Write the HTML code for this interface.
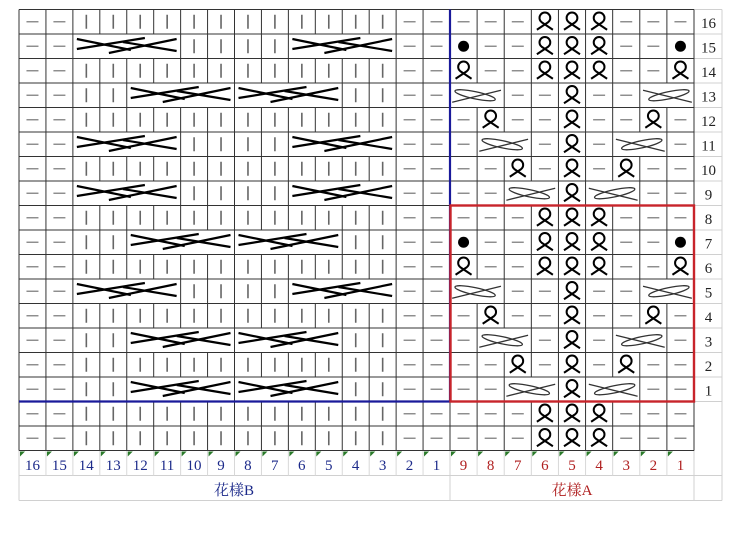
<!DOCTYPE html>
<html><head><meta charset="utf-8">
<style>
html,body{margin:0;padding:0;background:#fff;width:740px;height:533px;overflow:hidden}
svg{display:block}
text{font-family:"Liberation Serif","Noto Serif CJK SC",serif}
</style></head>
<body>
<svg id="s" width="740" height="533" viewBox="0 0 740 533" xmlns="http://www.w3.org/2000/svg">
<g id="g"></g>
<g font-size="15" text-anchor="middle">
<text x="708.5" y="28" fill="#222">16</text>
<text x="708.5" y="52.5" fill="#222">15</text>
<text x="708.5" y="77" fill="#222">14</text>
<text x="708.5" y="101.5" fill="#222">13</text>
<text x="708.5" y="126" fill="#222">12</text>
<text x="708.5" y="150.5" fill="#222">11</text>
<text x="708.5" y="175" fill="#222">10</text>
<text x="708.5" y="199.5" fill="#222">9</text>
<text x="708.5" y="224" fill="#222">8</text>
<text x="708.5" y="248.5" fill="#222">7</text>
<text x="708.5" y="273" fill="#222">6</text>
<text x="708.5" y="297.5" fill="#222">5</text>
<text x="708.5" y="322" fill="#222">4</text>
<text x="708.5" y="346.5" fill="#222">3</text>
<text x="708.5" y="371" fill="#222">2</text>
<text x="708.5" y="395.5" fill="#222">1</text>
</g>
<g font-size="15" text-anchor="middle" fill="#1c2a8a">
<text x="32.5" y="470">16</text><text x="59.4" y="470">15</text><text x="86.3" y="470">14</text><text x="113.3" y="470">13</text>
<text x="140.2" y="470">12</text><text x="167.1" y="470">11</text><text x="194" y="470">10</text><text x="221" y="470">9</text>
<text x="247.9" y="470">8</text><text x="274.8" y="470">7</text><text x="301.8" y="470">6</text><text x="328.7" y="470">5</text>
<text x="355.6" y="470">4</text><text x="382.6" y="470">3</text><text x="409.5" y="470">2</text><text x="436.5" y="470">1</text>
<text x="234" y="495">花樣B</text>
</g>
<g font-size="15" text-anchor="middle" fill="#b02020">
<text x="463.5" y="470">9</text><text x="490.6" y="470">8</text><text x="517.8" y="470">7</text><text x="544.9" y="470">6</text>
<text x="572" y="470">5</text><text x="599.1" y="470">4</text><text x="626.2" y="470">3</text><text x="653.4" y="470">2</text>
<text x="680.5" y="470">1</text>
<text x="572" y="495">花樣A</text>
</g>
</svg>
<script>
(function(){
var NS="http://www.w3.org/2000/svg",g=document.getElementById("g");
function el(t,a){var e=document.createElementNS(NS,t);for(var k in a)e.setAttribute(k,a[k]);g.appendChild(e);return e;}
function line(x1,y1,x2,y2,c,w){el("line",{x1:x1,y1:y1,x2:x2,y2:y2,stroke:c,"stroke-width":w||1});}
var T=9.5,RH=24.5,L=19,CWL=431/16,MX=450,CWR=244/9,R=694,NR=722;
var GB=T+18*RH;
var xs=[];for(var i=0;i<=16;i++)xs.push(L+i*CWL);for(var j=1;j<=9;j++)xs.push(MX+j*CWR);
for(var r=0;r<=16;r++)line(R,T+r*RH,NR,T+r*RH,"#d0d0d0",1);
line(NR,T,NR,GB+50,"#d0d0d0",1);
line(L,GB+25,NR,GB+25,"#d0d0d0",1);line(L,GB+50,NR,GB+50,"#d0d0d0",1);
line(L,GB,L,GB+50,"#d0d0d0",1);line(MX,GB,MX,GB+50,"#d0d0d0",1);line(R,GB,R,GB+50,"#d0d0d0",1);
for(var i=1;i<25;i++)if(i!=16)line(xs[i],GB,xs[i],GB+25,"#d8d8d8",1);
for(var i=0;i<25;i++){el("polygon",{points:(xs[i]+1)+","+(GB+1)+" "+(xs[i]+6)+","+(GB+1)+" "+(xs[i]+1)+","+(GB+6),fill:"#2a7a2a"});}
var K="|",P="-";
function Brow(type){var a=[P,P];
 if(type==0){for(var i=0;i<12;i++)a.push(K);}
 else if(type==1){a.push("C","0","0","0",K,K,K,K,"C","0","0","0");}
 else {a.push(K,K,"C","0","0","0","C","0","0","0",K,K);}
 a.push(P,P);return a;}
var A={16:"---QQQ---",15:"B--QQQ--B",14:"Q--QQQ--Q",13:"L0--Q--M0",12:"-Q--Q--Q-",11:"-L0-Q-M0-",10:"--Q-Q-Q--",9:"--L0QM0--"};
var btype={16:0,15:1,14:0,13:2,12:0,11:1,10:0,9:1,8:0,7:2,6:0,5:1,4:0,3:2,2:0,1:2};
var rows=[];
for(var r=16;r>=1;r--){var rr=r>8?r:r+8;rows.push(Brow(btype[r]).concat(A[rr].split("")));}
for(var e=0;e<2;e++)rows.push(Brow(0).concat("---QQQ---".split("")));
for(var r=0;r<=18;r++){line(L,T+r*RH,R,T+r*RH,"#333",1);}
for(var i=0;i<25;i++){
 for(var r=0;r<18;r++){var c=rows[r][i];if(i>0&&c==="0")continue;line(xs[i],T+r*RH,xs[i],T+(r+1)*RH,"#333",1);}
}
line(R,T,R,GB,"#333",1);
for(var r=0;r<18;r++){var y=T+r*RH,cy=y+RH/2;
 for(var i=0;i<25;i++){var c=rows[r][i],x=xs[i],cx=(xs[i]+xs[i+1])/2;
  if(c===K)line(cx,cy-7,cx,cy+7,"#666",1.6);
  else if(c===P)line(cx-6,cy,cx+6,cy,"#888",1.4);
  else if(c==="B")el("circle",{cx:cx,cy:cy,r:5.5,fill:"#000"});
  else if(c==="Q")el("path",{d:"M"+(cx-8)+" "+(cy+8)+" L"+(cx+3.2)+" "+(cy+0.5)+" A5.4 5.4 0 1 0 "+(cx-3.2)+" "+(cy+0.5)+" L"+(cx+8)+" "+(cy+8),fill:"none",stroke:"#000","stroke-width":2});
  else if(c==="C"){var x2=xs[i+4],w=x2-x;
   var s={stroke:"#000","stroke-width":2.2,fill:"none"};
   el("path",Object.assign({d:"M"+(x+4)+" "+(y+5)+" L"+(x+58)+" "+(y+16)},s));
   el("path",Object.assign({d:"M"+(x+4)+" "+(y+15)+" L"+(x+72)+" "+(y+4)},s));
   el("path",Object.assign({d:"M"+(x+36)+" "+(y+19)+" L"+(x+w-4)+" "+(y+5)},s));
   el("path",Object.assign({d:"M"+(x+50)+" "+(y+8)+" L"+(x+w-4)+" "+(y+17)},s));}
  else if(c==="L"||c==="M"){var w=xs[i+2]-x,mx=x+w/2,sg=c==="L"?1:-1;
   var s={stroke:"#333","stroke-width":1.3,fill:"none"};
   el("ellipse",Object.assign({cx:mx-sg*2,cy:cy,rx:w*0.38,ry:3.6,transform:"rotate("+(sg*12)+" "+(mx-sg*2)+" "+cy+")"},s));
   el("line",Object.assign({x1:mx-sg*(w*0.46),y1:cy+7,x2:mx+sg*(w*0.44),y2:cy-5},s));}
 }}
line(MX,T,MX,T+16*RH,"#1a1a9a",2.2);line(L,T+16*RH,MX,T+16*RH,"#1a1a9a",2.2);
el("rect",{x:MX+0.5,y:T+8*RH,width:R-MX-0.5,height:8*RH,fill:"none",stroke:"#c8242b","stroke-width":2.4});
})();
</script>
</body></html>
